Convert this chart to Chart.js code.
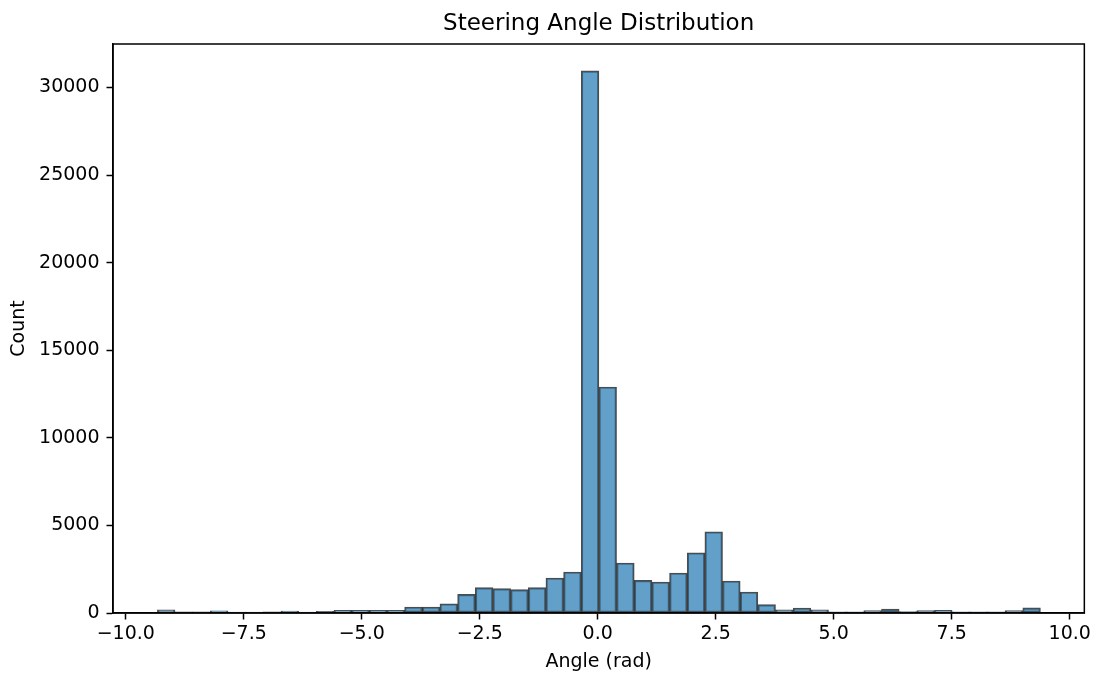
<!DOCTYPE html>
<html>
<head>
<meta charset="utf-8">
<script src="https://cdn.jsdelivr.net/npm/chart.js@4/dist/chart.umd.min.js"></script>
<style>
  html, body { margin: 0; padding: 0; background: #fff; }
  canvas { display: block; }
</style>
</head>
<body>
<canvas id="hist" width="1094" height="674"></canvas>
<script>
// Histogram of steering angles: 50 equal-width bins
const counts = [
  180, 60, 60, 120, 50, 50, 60, 110, 50, 90,
  150, 150, 150, 150, 340, 340, 530, 1060, 1445, 1390,
  1330, 1445, 2000, 2340, 30950, 12900, 2855, 1860, 1770, 2283,
  3440, 4640, 1826, 1200, 475, 180, 285, 180, 70, 70,
  140, 230, 80, 140, 150, 70, 70, 70, 140, 290
];
const binStart = -9.33;   // left edge of first bin (rad)
const binEnd = 9.38;      // right edge of last bin (rad)
const xTicks = [-10, -7.5, -5, -2.5, 0, 2.5, 5, 7.5, 10];
const yTicks = [0, 5000, 10000, 15000, 20000, 25000, 30000];
const titleText = 'Steering Angle Distribution';
const xLabel = 'Angle (rad)';
const yLabel = 'Count';

const binWidth = (binEnd - binStart) / counts.length;
const points = counts.map((c, i) => ({ x: binStart + (i + 0.5) * binWidth, y: c }));

Chart.defaults.font.family = "'DejaVu Sans', 'Liberation Sans', sans-serif";
Chart.defaults.color = '#000';

// Full rectangular frame around the plot area
const framePlugin = {
  id: 'frame',
  afterDatasetsDraw(chart) {
    const { ctx, chartArea: a } = chart;
    ctx.save();
    ctx.strokeStyle = '#000';
    ctx.lineWidth = 1.5;
    ctx.strokeRect(a.left, a.top, a.right - a.left, a.bottom - a.top);
    ctx.restore();
  }
};

const minus = s => s.replace('-', '\u2212');

const tickGrid = {
  display: true, offset: false, drawOnChartArea: false, drawTicks: true,
  tickLength: 6.5, tickColor: '#000', tickWidth: 1.5
};

new Chart(document.getElementById('hist'), {
  type: 'bar',
  data: {
    datasets: [{
      data: points,
      backgroundColor: 'rgba(31,119,180,0.7)',
      borderColor: 'rgba(0,0,0,0.7)',
      borderWidth: 1.5,
      borderSkipped: false,
      barPercentage: 1,
      categoryPercentage: 1
    }]
  },
  options: {
    responsive: false,
    devicePixelRatio: 1,
    animation: false,
    layout: { padding: { left: 0, right: 9, top: 0, bottom: 0 } },
    plugins: {
      legend: { display: false },
      tooltip: { enabled: false },
      title: {
        display: true,
        text: titleText,
        fullSize: false,
        color: '#000',
        font: { size: 23, weight: 'normal', lineHeight: 1.2 },
        padding: { top: 10, bottom: 6.4 }
      }
    },
    scales: {
      x: {
        type: 'linear',
        offset: false,
        min: -10.27,
        max: 10.31,
        afterBuildTicks: s => { s.ticks = xTicks.map(v => ({ value: v })); },
        afterFit: s => { s.height = 61; },
        grid: tickGrid,
        border: { display: true, color: '#000', width: 1.5 },
        ticks: {
          autoSkip: false, maxRotation: 0, padding: 3,
          font: { size: 19 },
          callback: v => minus(Number(v).toFixed(1))
        },
        title: { display: true, text: xLabel, font: { size: 19 }, padding: { top: 0, bottom: 1 } }
      },
      y: {
        min: 0,
        max: 32480,
        afterBuildTicks: s => { s.ticks = yTicks.map(v => ({ value: v })); },
        afterFit: s => { s.width = 113; },
        grid: tickGrid,
        border: { display: true, color: '#000', width: 1.5 },
        ticks: {
          autoSkip: false, padding: 7,
          font: { size: 19 },
          callback: v => String(v)
        },
        title: { display: true, text: yLabel, font: { size: 19 }, padding: { top: 8, bottom: 0 } }
      }
    }
  },
  plugins: [framePlugin]
});
</script>
</body>
</html>
